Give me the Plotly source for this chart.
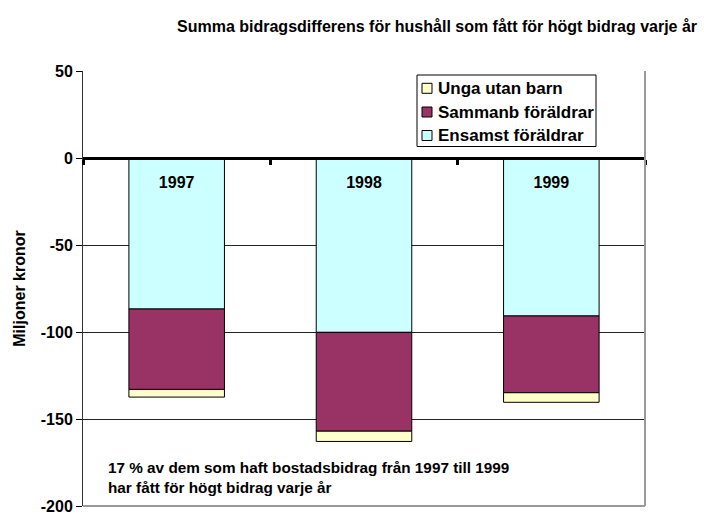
import plotly.graph_objects as go

years = ["1997", "1998", "1999"]
ensamst = [-86.8, -100.2, -90.8]
sammanb = [-46.2, -56.8, -44.1]
unga = [-4.4, -5.9, -5.5]
ytick_vals = [50, 0, -50, -100, -150, -200]

series_names = ["Ensamst föräldrar", "Sammanb föräldrar", "Unga utan barn"]
series_values = [ensamst, sammanb, unga]
series_colors = ["#CCFFFF", "#993366", "#FFFFCC"]

FONT = "Arial, Liberation Sans, sans-serif"

fig = go.Figure()
for name, vals, col in zip(series_names, series_values, series_colors):
    fig.add_trace(go.Bar(x=years, y=vals, name=name, showlegend=False,
                         marker=dict(color=col, line=dict(color="black", width=1))))

L, R, T, B = 83, 645, 71, 506
W, H = R - L, B - T


def px(x):
    return (x - L) / W


def py(y):
    return (B - y) / H


fig.update_layout(
    width=704, height=516,
    margin=dict(l=L, r=704 - R, t=T, b=516 - B, autoexpand=False),
    barmode="relative",
    bargap=0.49,
    plot_bgcolor="white",
    paper_bgcolor="white",
    font=dict(family=FONT, size=16, color="black"),
    showlegend=False,
    xaxis=dict(type="category", anchor="free", position=0.8,
               range=[-0.5, 2.5],
               showline=True, linecolor="black", linewidth=3,
               ticks="outside", tickson="boundaries", ticklen=5, tickwidth=3,
               tickcolor="black", showgrid=False, zeroline=False,
               tickvals=years, ticktext=["<b>%s</b>" % y for y in years],
               tickfont=dict(family=FONT, size=16, color="black"),
               ticklabelstandoff=9),
    yaxis=dict(range=[-200, 50], showgrid=True, gridcolor="#222222",
               gridwidth=1, zeroline=False, showline=True, linecolor="#333333",
               linewidth=1, ticks="outside", ticklen=6, tickcolor="black",
               tickvals=ytick_vals, ticktext=["<b>%d</b>" % v for v in ytick_vals],
               ticklabeloverflow="allow",
               tickfont=dict(family=FONT, size=16, color="black"),
               title=dict(text="<b>Miljoner kronor</b>", standoff=11,
                          font=dict(family=FONT, size=16, color="black"))),
)

# frame (right and bottom)
fig.add_shape(type="line", xref="paper", yref="paper", x0=1, x1=1, y0=0, y1=1,
              line=dict(color="#999999", width=2))
fig.add_shape(type="line", xref="paper", yref="paper", x0=0, x1=1, y0=0, y1=0,
              line=dict(color="#999999", width=2))

# legend box (legend order is reversed relative to stacking)
fig.add_shape(type="rect", xref="paper", yref="paper",
              x0=px(417), x1=px(596), y0=py(75), y1=py(146.5),
              line=dict(color="black", width=1), fillcolor="white", layer="above")
row_y = [88.3, 112, 135.5]
for i, (name, col) in enumerate(zip(series_names[::-1], series_colors[::-1])):
    yc = row_y[i]
    fig.add_shape(type="rect", xref="paper", yref="paper",
                  x0=px(422), x1=px(432), y0=py(yc - 5), y1=py(yc + 5),
                  line=dict(color="black", width=1), fillcolor=col, layer="above")
    fig.add_annotation(text="<b>%s</b>" % name, xref="paper", yref="paper",
                       x=px(436), y=py(yc), xanchor="left", yanchor="middle",
                       showarrow=False,
                       font=dict(family=FONT, size=17, color="black"))

fig.add_annotation(text="<b>Summa bidragsdifferens för hushåll som fått för högt bidrag varje år</b>",
                   xref="paper", yref="paper", x=px(437), y=py(27),
                   showarrow=False, xanchor="center", yanchor="middle",
                   font=dict(family=FONT, size=16, color="black"))
fig.add_annotation(text="<b>17 % av dem som haft bostadsbidrag från 1997 till 1999<br>har fått för högt bidrag varje år</b>",
                   xref="paper", yref="paper", x=px(106), y=py(477),
                   showarrow=False, xanchor="left", yanchor="middle", align="left",
                   font=dict(family=FONT, size=15.3, color="black"))

fig.write_html("out.html", post_script="document.body.style.margin='0';",
               config={"displayModeBar": False})
